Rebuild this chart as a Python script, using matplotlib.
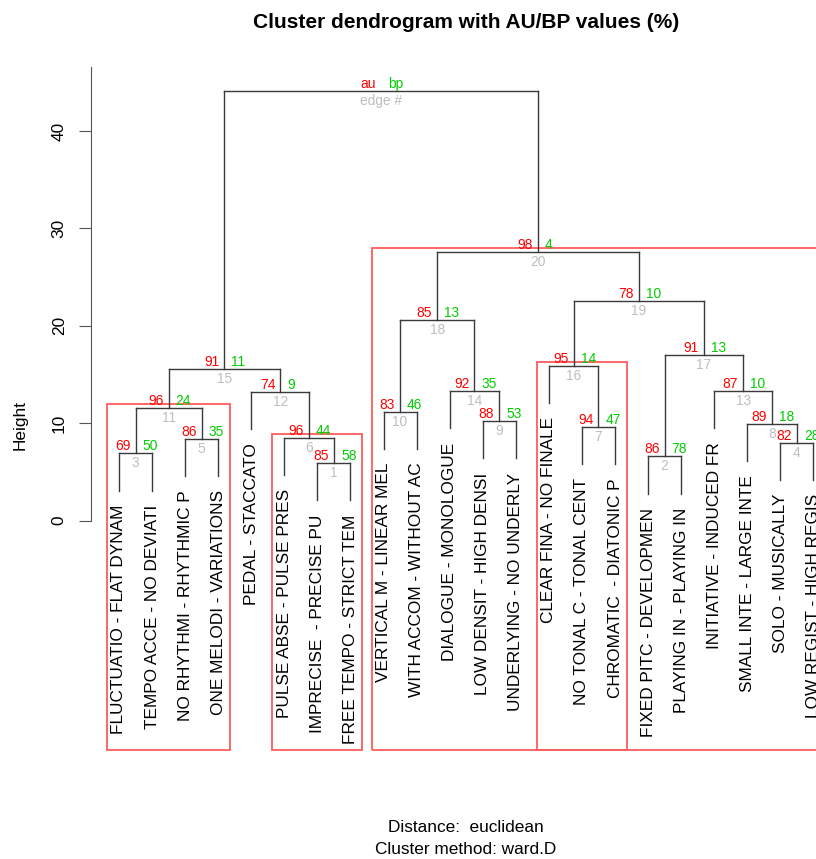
import numpy as np
import matplotlib
matplotlib.use("Agg")
import matplotlib.pyplot as plt

plt.rcParams['font.family'] = ['Liberation Sans', 'DejaVu Sans']

# leaves in plotted order
leaves = ['FLUCTUATIO - FLAT DYNAM', 'TEMPO ACCE - NO DEVIATI', 'NO RHYTHMI - RHYTHMIC P',
          'ONE MELODI - VARIATIONS', 'PEDAL - STACCATO', 'PULSE ABSE - PULSE PRES',
          'IMPRECISE  - PRECISE PU', 'FREE TEMPO - STRICT TEM', 'VERTICAL M - LINEAR MEL',
          'WITH ACCOM - WITHOUT AC', 'DIALOGUE - MONOLOGUE', 'LOW DENSIT - HIGH DENSI',
          'UNDERLYING - NO UNDERLY', 'CLEAR FINA - NO FINALE', 'NO TONAL C - TONAL CENT',
          'CHROMATIC  - DIATONIC P', 'FIXED PITC - DEVELOPMEN', 'PLAYING IN - PLAYING IN',
          'INITIATIVE - INDUCED FR', 'SMALL INTE - LARGE INTE', 'SOLO - MUSICALLY',
          'LOW REGIST - HIGH REGIS']

# hclust style merges: negative = leaf, positive = earlier merge (edge #)
merge = [(-7, -8), (-17, -18), (-1, -2), (-21, -22), (-3, -4), (-6, 1), (-15, -16),
         (-20, 4), (-12, -13), (-9, -10), (3, 5), (-5, 6), (-19, 8), (-11, 9),
         (11, 12), (-14, 7), (2, 13), (10, 14), (16, 17), (18, 19), (15, 20)]
height = [5.9, 6.6, 6.9, 8.0, 8.4, 8.5, 9.6, 9.9, 10.2, 11.2, 11.6, 13.2, 13.3, 13.3,
          15.6, 15.9, 17.0, 20.6, 22.6, 27.6, 44.1]
au = [85, 86, 69, 82, 86, 96, 94, 89, 88, 83, 96, 74, 87, 92, 91, 95, 91, 85, 78, 98]
bp = [58, 78, 50, 28, 35, 44, 47, 18, 53, 46, 24, 9, 10, 35, 11, 14, 13, 13, 10, 4]

n = len(leaves)
hang = 0.1 * (max(height) - min(height))
xlim = (1 - 0.04 * (n - 1), n + 0.04 * (n - 1))
ylim = (-23.86, 47.5)

fig = plt.figure(figsize=(8.16, 8.59), dpi=100)
ax = fig.add_axes([91.2 / 816, 106 / 859, 750 / 816, 695 / 859])
ax.set_xlim(xlim)
ax.set_ylim(ylim)

line_col = '#3a3a3a'
node_x = {}
members = {}
for i, (a, b) in enumerate(merge, start=1):
    h = height[i - 1]
    xs = []
    mem = []
    for c in (a, b):
        if c < 0:
            cx = -c
            ax.plot([cx, cx], [h - hang, h], color=line_col, lw=1.0)
            ax.annotate(leaves[cx - 1], (cx, h - hang), xytext=(0, -14),
                        textcoords='offset pixels', rotation=90, ha='center', va='top',
                        fontsize=12.4, color='black')
            mem.append(cx)
        else:
            cx = node_x[c]
            ax.plot([cx, cx], [height[c - 1], h], color=line_col, lw=1.0)
            mem += members[c]
        xs.append(cx)
    ax.plot(xs, [h, h], color=line_col, lw=1.0)
    node_x[i] = np.mean(xs)
    members[i] = mem

# au / bp / edge labels, the root carries the legend
for i in range(1, len(merge) + 1):
    x = node_x[i]
    h = height[i - 1]
    if i <= len(au):
        t_au, t_bp, t_ed = str(au[i - 1]), str(bp[i - 1]), str(i)
    else:
        t_au, t_bp, t_ed = 'au', 'bp', 'edge #'
    ax.annotate(t_au, (x, h), xytext=(-5, 3), textcoords='offset pixels',
                ha='right', va='baseline', fontsize=9.9, color='#ff0000')
    ax.annotate(t_bp, (x, h), xytext=(7, 3), textcoords='offset pixels',
                ha='left', va='baseline', fontsize=9.9, color='#00cd00')
    ax.annotate(t_ed, (x, h), xytext=(0, -3), textcoords='offset pixels',
                ha='center', va='top', fontsize=9.9, color='#bebebe')

# rectangles around clusters with au >= 95
mx = (xlim[1] - xlim[0]) / len(merge) / 3
my = (ylim[1] - ylim[0]) / 200
for i in range(len(au)):
    if au[i] >= 95:
        xl = min(members[i + 1]) - mx
        xr = max(members[i + 1]) + mx
        ax.add_patch(plt.Rectangle((xl, ylim[0] + my), xr - xl, height[i] - ylim[0],
                                   fill=False, edgecolor='#ff5c5c', lw=1.3))

for s in ['top', 'right', 'bottom']:
    ax.spines[s].set_visible(False)
ax.spines['left'].set_bounds(0, 46.6)
ax.spines['left'].set_color('#555555')
ax.set_xticks([])
ax.set_yticks([0, 10, 20, 30, 40])
ax.set_yticklabels(['0', '10', '20', '30', '40'], rotation=90, va='center', fontsize=12.4)
ax.tick_params(axis='y', length=8.6, color='#555555', pad=9)

fig.text(20 / 816, 1 - 425 / 859, 'Height', rotation=90, ha='center', va='center', fontsize=12.4)
fig.text(466 / 816, 1 - 22 / 859, 'Cluster dendrogram with AU/BP values (%)',
         ha='center', va='center', fontsize=15, fontweight='bold')
fig.text(466 / 816, 1 - 828 / 859, 'Distance:  euclidean', ha='center', va='center', fontsize=12.4)
fig.text(466 / 816, 1 - 849 / 859, 'Cluster method: ward.D', ha='center', va='center', fontsize=12.4)

fig.savefig('out.png', dpi=100)
